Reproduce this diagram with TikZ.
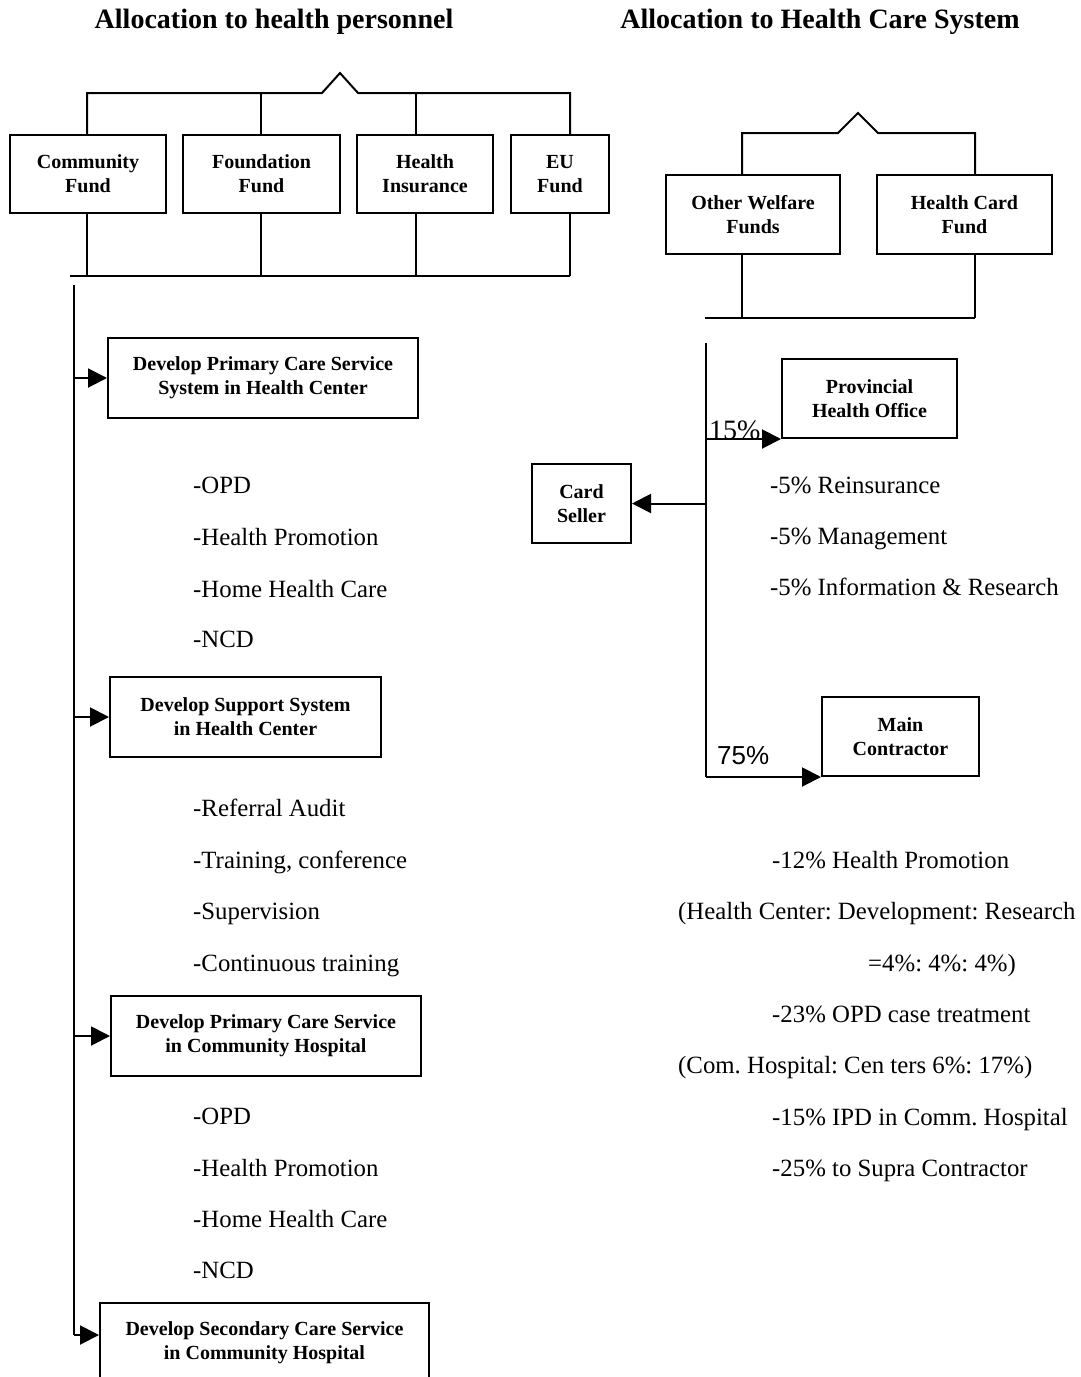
\documentclass[tikz,border=0pt]{standalone}
\usepackage{fontspec}
\setmainfont{Liberation Serif}
\newfontfamily\arialf{Liberation Sans}
\usetikzlibrary{arrows.meta}
\frenchspacing
\begin{document}
\begin{tikzpicture}[x=1pt,y=-1pt,
  box/.style={draw, line width=2pt, align=center, inner sep=0pt,
    font=\fontsize{20}{24}\selectfont\bfseries},
  ln/.style={line width=2pt},
  arr/.style={line width=2pt, -{Triangle[length=19pt,width=19pt]}},
  item/.style={anchor=west, inner sep=0pt, text height=17pt, text depth=5pt,
    font=\fontsize{24.8}{28}\selectfont},
  ttl/.style={font=\fontsize{28}{32}\selectfont\bfseries, inner sep=0pt},
  pct/.style={anchor=west, inner sep=0pt, text height=19pt, text depth=2pt}]
\clip (0,0) rectangle (1080,1377);
\fill[white] (0,0) rectangle (1080,1377);

% titles
\node[ttl] (tl) at (274,22) {Allocation to health personnel};
\node[ttl] (tr) at (820,22) {Allocation to Health Care System};

% ---------- left funds ----------
\node[box, minimum width=156pt, minimum height=78pt] (cf) at (88,174) {Community\\Fund};
\node[box, minimum width=157pt, minimum height=78pt] (ff) at (261.5,174) {Foundation\\Fund};
\node[box, minimum width=136pt, minimum height=78pt] (hi) at (425,174) {Health\\Insurance};
\node[box, minimum width=98pt, minimum height=78pt] (eu) at (560,174) {EU\\Fund};

\coordinate (t1) at (87,93);
\coordinate (t2) at (261,93);
\coordinate (t3) at (416,93);
\coordinate (t4) at (570,93);
\coordinate (bl) at (70,276);
\draw[ln] (t1 |- cf.north) -- (t1) -- (322,93) -- (340,73) -- (358,93) -- (t4) -- (t4 |- eu.north);
\draw[ln] (t2) -- (t2 |- ff.north);
\draw[ln] (t3) -- (t3 |- hi.north);
\draw[ln] (bl) -- (t4 |- bl);
\draw[ln] (t1 |- cf.south) -- (t1 |- bl);
\draw[ln] (t2 |- ff.south) -- (t2 |- bl);
\draw[ln] (t3 |- hi.south) -- (t3 |- bl);
\draw[ln] (t4 |- eu.south) -- (t4 |- bl);

% ---------- left chain ----------
\node[box, minimum width=310pt, minimum height=80pt] (d1) at (263,378) {Develop Primary Care Service\\System in Health Center};
\node[box, minimum width=271pt, minimum height=80pt] (d2) at (245.5,717) {Develop Support System\\in Health Center};
\node[box, minimum width=310pt, minimum height=80pt] (d3) at (266,1036) {Develop Primary Care Service\\in Community Hospital};
\node[box, minimum width=329pt, minimum height=80pt] (d4) at (264.5,1343) {Develop Secondary Care Service\\in Community Hospital};

\coordinate (sp) at (74,285);
\coordinate (sb) at (74,1335);
\draw[ln] (sp) -- (sb);
\draw[arr] (sp |- d1.west) -- (d1.west);
\draw[arr] (sp |- d2.west) -- (d2.west);
\draw[arr] (sp |- d3.west) -- (d3.west);
\draw[arr] (sb) -- (d4.west |- sb);

\node[item] (a1) at (193,487) {-OPD};
\node[item] (a2) at (193,539) {-Health Promotion};
\node[item] (a3) at (193,591) {-Home Health Care};
\node[item] (a4) at (193,641) {-NCD};

\node[item] (b1) at (193,810) {-Referral Audit};
\node[item] (b2) at (193,862) {-Training, conference};
\node[item] (b3) at (193,913) {-Supervision};
\node[item] (b4) at (193,965) {-Continuous training};

\node[item] (c1) at (193,1118) {-OPD};
\node[item] (c2) at (193,1170) {-Health Promotion};
\node[item] (c3) at (193,1221) {-Home Health Care};
\node[item] (c4) at (193,1272) {-NCD};

% ---------- right funds ----------
\node[box, minimum width=174pt, minimum height=79pt] (ow) at (753,214.5) {Other Welfare\\Funds};
\node[box, minimum width=175pt, minimum height=79pt] (hc) at (964.5,214.5) {Health Card\\Fund};

\coordinate (r1) at (742,133);
\coordinate (r2) at (975,133);
\coordinate (rb) at (705,318);
\draw[ln] (r1 |- ow.north) -- (r1) -- (838,133) -- (858,113) -- (878,133) -- (r2) -- (r2 |- hc.north);
\draw[ln] (rb) -- (r2 |- rb);
\draw[ln] (r1 |- ow.south) -- (r1 |- rb);
\draw[ln] (r2 |- hc.south) -- (r2 |- rb);

% ---------- right chain ----------
\node[box, minimum width=175pt, minimum height=79pt] (ph) at (869.5,398.5) {Provincial\\Health Office};
\node[box, minimum width=99pt, minimum height=79pt] (cs) at (581.5,503.5) {Card\\Seller};
\node[box, minimum width=157pt, minimum height=79pt] (mc) at (900.5,736.5) {Main\\Contractor};

\coordinate (rs) at (706,343);
\coordinate (re) at (706,777);
\draw[ln] (rs) -- (re);
\draw[arr] (rs |- ph.south west) -- (ph.south west);
\draw[arr] (rs |- cs.east) -- (cs.east);
\draw[arr] (re) -- (mc.south west |- re);

\node[pct, font=\fontsize{28}{30}\selectfont] (p15) at (709,431) {15\%};
\node[pct, font=\arialf\fontsize{26}{30}\selectfont] (p75) at (717,756) {75\%};

\node[item] (e1) at (770,487) {-5\% Reinsurance};
\node[item] (e2) at (770,538) {-5\% Management};
\node[item] (e3) at (770,589) {-5\% Information \& Research};

\node[item] (f1) at (772,862) {-12\% Health Promotion};
\node[item] (f2) at (678,913) {(Health Center: Development: Research};
\node[item] (f3) at (868,965) {=4\%: 4\%: 4\%)};
\node[item] (f4) at (772,1016) {-23\% OPD case treatment};
\node[item] (f5) at (678,1067) {(Com. Hospital: Cen ters 6\%: 17\%)};
\node[item] (f6) at (772,1119) {-15\% IPD in Comm. Hospital};
\node[item] (f7) at (772,1170) {-25\% to Supra Contractor};
\end{tikzpicture}
\end{document}
